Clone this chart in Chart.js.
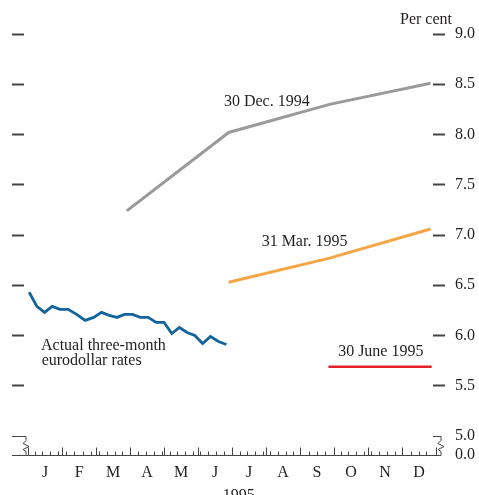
<!DOCTYPE html>
<html>
<head>
<meta charset="utf-8">
<script src="https://cdn.jsdelivr.net/npm/chart.js@4.4.1/dist/chart.umd.min.js"></script>
<style>
  html, body { margin: 0; padding: 0; background: #fff; overflow: hidden; }
  #wrap { width: 479px; height: 495px; }
</style>
</head>
<body>
<div id="wrap"><canvas id="rates"></canvas></div>
<script>
// Month initials along the bottom axis (1995)
const monthLabels = ["J", "F", "M", "A", "M", "J", "J", "A", "S", "O", "N", "D"];

// Right-hand scale, per cent (0.0 sits below the axis break)
const yTickValues = [5.0, 5.5, 6.0, 6.5, 7.0, 7.5, 8.0, 8.5, 9.0];
const yMin = 4.811; // where "0.0" is drawn, just under the break

// Actual three-month eurodollar rates, weekly
const actualDates = [
  "1995-01-02", "1995-01-09", "1995-01-16", "1995-01-23", "1995-01-30",
  "1995-02-06", "1995-02-13", "1995-02-20", "1995-02-27",
  "1995-03-06", "1995-03-13", "1995-03-20", "1995-03-27",
  "1995-04-03", "1995-04-10", "1995-04-17", "1995-04-24",
  "1995-05-01", "1995-05-08", "1995-05-15", "1995-05-22", "1995-05-29",
  "1995-06-05", "1995-06-12", "1995-06-19", "1995-06-26"
];
const actualRates = [
  6.43, 6.29, 6.23, 6.29, 6.26,
  6.26, 6.21, 6.15, 6.18,
  6.23, 6.20, 6.18, 6.21,
  6.21, 6.18, 6.18, 6.13,
  6.13, 6.02, 6.08, 6.03, 6.00,
  5.92, 5.99, 5.94, 5.91
];

// Rates implied by futures prices on three dates
const dec94Dates = ["1995-03-29", "1995-06-28", "1995-09-27", "1995-12-27"];
const dec94Rates = [7.24, 8.02, 8.30, 8.51];
const mar95Dates = ["1995-06-28", "1995-09-27", "1995-12-27"];
const mar95Rates = [6.53, 6.77, 7.06];
const jun95Dates = ["1995-09-26", "1995-12-28"];
const jun95Rates = [5.69, 5.69];

const inkColor = "#231f20";
const tickInk = "#444";
const serif = "'Liberation Serif', 'Times New Roman', serif";

// date string -> months since 1 Jan (fractional)
function monthPos(d) {
  const [yr, m, day] = d.split("-").map(Number);
  const days = new Date(yr, m, 0).getDate();
  return (m - 1) + (day - 1) / days;
}

function toPoints(dates, values) {
  return dates.map((d, i) => ({ x: monthPos(d), y: values[i] }));
}

// text labels placed in data units
const notes = [
  { text: "30 Dec. 1994", x: 5.76, y: 8.33 },
  { text: "31 Mar. 1995", x: 6.87, y: 6.93 },
  { text: "30 June 1995", x: 9.12, y: 5.84 },
  { text: "Actual three-month", x: 0.38, y: 5.90 },
  { text: "eurodollar rates", x: 0.40, y: 5.745 }
];

// axis line with weekly/monthly ticks, the scale breaks, and the labels
const framePlugin = {
  id: "frame",
  afterDatasetsDraw(chart) {
    const { ctx, chartArea } = chart;
    const x = chart.scales.x;
    const y = chart.scales.y;
    const y0 = Math.round(y.getPixelForValue(yMin)) + 0.5;
    const y5 = Math.round(y.getPixelForValue(5.0)) + 0.5;
    const xl = chartArea.left - 12;
    const xr = chartArea.right + 8;

    ctx.save();
    ctx.strokeStyle = tickInk;
    ctx.lineWidth = 1;

    // baseline
    ctx.beginPath();
    ctx.moveTo(xl, y0);
    ctx.lineTo(xr, y0);
    ctx.stroke();

    // month ticks (tall) and weekly ticks (short), pointing up
    ctx.beginPath();
    for (let m = 0; m <= 12; m++) {
      const px = Math.round(x.getPixelForValue(m)) + 0.5;
      ctx.moveTo(px, y0);
      ctx.lineTo(px, y0 - 8);
    }
    for (let d = 6; d < 365; d += 7) {
      const dt = new Date(1995, 0, 1 + d);
      if (dt.getDate() <= 2 || dt.getDate() >= 30) continue;
      const m = dt.getMonth() + (dt.getDate() - 1) / new Date(1995, dt.getMonth() + 1, 0).getDate();
      const px = Math.round(x.getPixelForValue(m)) + 0.5;
      ctx.moveTo(px, y0);
      ctx.lineTo(px, y0 - 4);
    }
    ctx.stroke();

    // break brackets, left and right
    const bracket = (x1, x2, zx) => {
      ctx.beginPath();
      ctx.moveTo(x1, y5);
      ctx.lineTo(x2, y5);
      ctx.lineTo(zx, y5 + 4);
      ctx.lineTo(zx - 3, y5 + 7);
      ctx.lineTo(zx + 3, y5 + 10);
      ctx.lineTo(zx - 3, y5 + 13);
      ctx.lineTo(zx, y5 + 15);
      ctx.lineTo(zx, y0);
      ctx.stroke();
    };
    bracket(xl, chartArea.left + 2, chartArea.left + 2);
    bracket(chartArea.right, xr, xr);

    // text labels
    ctx.fillStyle = inkColor;
    ctx.font = "16px " + serif;
    ctx.textBaseline = "middle";
    ctx.textAlign = "left";
    notes.forEach((n) => {
      ctx.fillText(n.text, x.getPixelForValue(n.x), y.getPixelForValue(n.y));
    });
    ctx.textAlign = "right";
    ctx.fillText("Per cent", chartArea.right + 19, y.getPixelForValue(9.0) - 14);
    ctx.textAlign = "center";
    ctx.fillText("1995", x.getPixelForValue(6.2), y0 + 40);
    ctx.restore();
  }
};

const yTicks = (scale) => {
  scale.ticks = [yMin, ...yTickValues].map((v) => ({ value: v }));
};

const tickGrid = {
  drawOnChartArea: false,
  tickLength: 12,
  tickWidth: 2,
  tickColor: (c) => (c.tick && c.tick.value > 5.0 ? tickInk : "rgba(0,0,0,0)")
};

const lineStyle = (color, width) => ({
  borderColor: color,
  borderWidth: width,
  pointRadius: 0,
  fill: false,
  tension: 0
});

new Chart(document.getElementById("rates"), {
  type: "line",
  data: {
    datasets: [
      { label: "Actual", data: toPoints(actualDates, actualRates), ...lineStyle("#11649c", 2.8) },
      { label: "30 Dec. 1994", data: toPoints(dec94Dates, dec94Rates), ...lineStyle("#9a9a9a", 3) },
      { label: "31 Mar. 1995", data: toPoints(mar95Dates, mar95Rates), ...lineStyle("#f7a646", 3) },
      { label: "30 June 1995", data: toPoints(jun95Dates, jun95Rates), ...lineStyle("#e4202c", 2.5) }
    ]
  },
  options: {
    responsive: true,
    maintainAspectRatio: false,
    animation: false,
    layout: { padding: { top: 34, left: 12, right: 4, bottom: 0 } },
    plugins: { legend: { display: false }, tooltip: { enabled: false } },
    scales: {
      x: {
        type: "linear",
        min: -0.12,
        max: 11.91,
        grid: { display: false, drawTicks: false, tickLength: 0 },
        border: { display: false },
        afterBuildTicks: (scale) => {
          scale.ticks = monthLabels.map((_, i) => ({ value: i + 0.5 }));
        },
        afterFit: (scale) => {
          scale.height = 40;
        },
        ticks: {
          autoSkip: false,
          maxRotation: 0,
          padding: 8,
          color: inkColor,
          font: { family: serif, size: 16 },
          callback: (v) => monthLabels[Math.floor(v)]
        }
      },
      y: {
        position: "right",
        min: yMin,
        max: 9.0,
        afterBuildTicks: yTicks,
        afterFit: (scale) => {
          scale.width = 42;
        },
        grid: tickGrid,
        border: { display: false },
        ticks: {
          padding: 10,
          color: inkColor,
          font: { family: serif, size: 16 },
          callback: (v) => (v === yMin ? "0.0" : v.toFixed(1))
        }
      },
      yLeft: {
        position: "left",
        min: yMin,
        max: 9.0,
        afterBuildTicks: yTicks,
        grid: tickGrid,
        border: { display: false },
        ticks: { display: false }
      }
    }
  },
  plugins: [framePlugin]
});
</script>
</body>
</html>
